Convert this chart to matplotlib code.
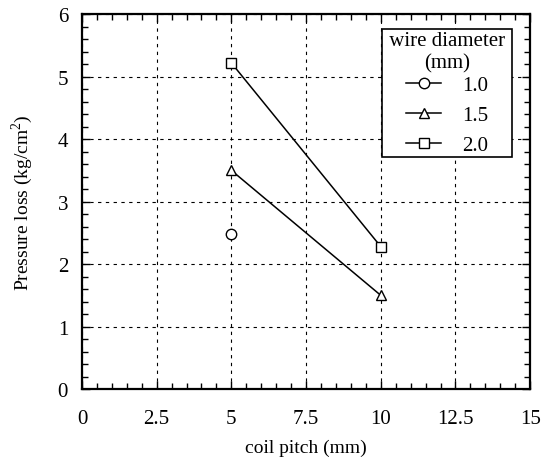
import matplotlib
matplotlib.use('Agg')
import matplotlib.pyplot as plt
from matplotlib.ticker import MultipleLocator

plt.rcParams['font.family'] = ['Liberation Serif', 'DejaVu Serif']
plt.rcParams['mathtext.fontset'] = 'custom'
plt.rcParams['mathtext.rm'] = 'Liberation Serif'

# data
pitch_10 = [5]
loss_10 = [2.48]
pitch_15 = [5, 10]
loss_15 = [3.5, 1.5]
pitch_20 = [5, 10]
loss_20 = [5.22, 2.28]

fig = plt.figure(figsize=(5.5, 4.6), dpi=100)
ax = fig.add_axes([0.149, 0.152, 0.815, 0.815])

mk = dict(color='black', markerfacecolor='white', markeredgecolor='black',
          markersize=7.5, linewidth=1.1, markeredgewidth=1.0)
ax.plot(pitch_10, loss_10, marker='o', label='1.0', **mk)
ax.plot(pitch_15, loss_15, marker='^', label='1.5', **mk)
ax.plot(pitch_20, loss_20, marker='s', label='2.0', **mk)

ax.set_xlim(0, 15)
ax.set_ylim(0, 6)
ax.xaxis.set_minor_locator(MultipleLocator(0.5))
ax.yaxis.set_major_locator(MultipleLocator(1))
ax.yaxis.set_minor_locator(MultipleLocator(0.2))
ax.set_xticks([0, 2.5, 5, 7.5, 10, 12.5, 15])
ax.set_xticklabels(['0', '2.5', '5', '7.5', '10', '12.5', '15'])

ax.tick_params(which='both', direction='in', top=True, right=True,
               labelsize=15, colors='black')
ax.tick_params(which='major', length=6, width=1)
ax.tick_params(axis='x', which='major', pad=14)
ax.tick_params(axis='y', which='major', pad=10)
ax.tick_params(which='minor', length=4, width=1)
for s in ax.spines.values():
    s.set_linewidth(1.6)

ax.grid(True, which='major', color='black', linestyle=(0, (3, 4)), linewidth=0.8)
ax.set_axisbelow(True)

ax.set_xlabel('coil pitch (mm)', fontsize=14, labelpad=8)
ax.set_ylabel('Pressure loss (kg/cm$^2$)', fontsize=14, labelpad=16)

# extra spaces around the title widen the box without adding height
leg = ax.legend(title=' wire diameter \n(mm)', loc='upper right',
                bbox_to_anchor=(0.96, 0.96), borderaxespad=0, fontsize=15,
                title_fontsize=15, fancybox=False, framealpha=1, edgecolor='black',
                handlelength=1.7, labelspacing=0.5, borderpad=0.1,
                handletextpad=1.0)
leg._legend_box.sep = 2.5
leg.get_frame().set_linewidth(1.2)
leg.get_title().set_multialignment('center')

fig.savefig('out.png', dpi=100, facecolor='white')
